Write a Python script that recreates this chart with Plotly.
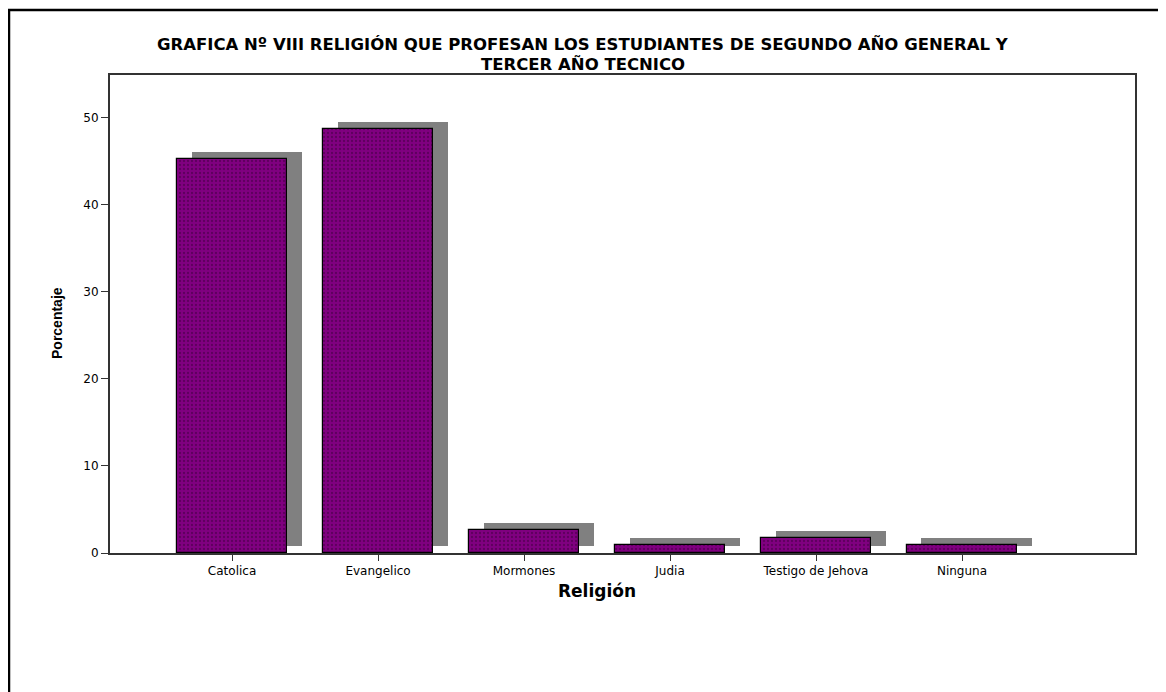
import plotly.graph_objects as go

categories = ["Catolica", "Evangelico", "Mormones", "Judia", "Testigo de Jehova", "Ninguna"]
percentages = [45.2, 48.7, 2.6, 0.9, 1.7, 0.9]
y_ticks = [0, 10, 20, 30, 40, 50]

positions = list(range(len(categories)))
shadow_dx = 0.10
shadow_dy = 0.85
bar_w = 0.755

OFF = 8  # page body margin
W, H = 1166 - OFF, 692 - OFF
# page-space plot box
L, R, T, B = 110, 1135, 75, 553
pw, ph = R - L, B - T

def px(x):
    return (x - L) / pw

def py(y):
    return (B - y) / ph

fig = go.Figure()
fig.add_trace(go.Bar(
    x=[p + shadow_dx for p in positions], y=percentages, base=[shadow_dy] * len(percentages),
    width=bar_w, marker=dict(color="#808080", line=dict(width=0)),
    hoverinfo="skip", showlegend=False,
))
fig.add_trace(go.Bar(
    x=positions, y=percentages, width=bar_w,
    marker=dict(color="#800080", line=dict(color="#000000", width=1.2),
                pattern=dict(shape=".", size=4, solidity=0.25, fgcolor="#3a003a",
                             bgcolor="#800080", fillmode="overlay")),
    showlegend=False,
))

title_font = dict(size=16.5, family="DejaVu Sans, Liberation Sans, sans-serif", color="#000000")
tick_font = dict(size=12, family="DejaVu Sans, Liberation Sans, sans-serif", color="#000000")

fig.update_layout(
    width=W, height=H,
    margin=dict(l=L - OFF, r=W - (R - OFF), t=T - OFF, b=H - (B - OFF), autoexpand=False),
    paper_bgcolor="white", plot_bgcolor="white",
    barmode="overlay", bargap=0,
    font=dict(family="DejaVu Sans, Liberation Sans, sans-serif", color="#000000", size=12),
    xaxis=dict(range=[-0.836, 6.185], tickvals=positions, ticktext=categories,
               showgrid=False, zeroline=False, showline=True, linecolor="#333333", linewidth=1.5,
               mirror=True, ticks="outside", ticklen=6, tickcolor="#333333",
               tickfont=tick_font),
    yaxis=dict(range=[0, 54.9], tickvals=y_ticks, showgrid=False, zeroline=False,
               showline=True, linecolor="#333333", linewidth=2, mirror=True,
               ticks="outside", ticklen=7, tickcolor="#333333", tickfont=tick_font),
    shapes=[
        dict(type="line", xref="paper", yref="paper", x0=px(7), x1=px(1175), y0=py(10), y1=py(10),
             line=dict(color="black", width=2.5)),
        dict(type="line", xref="paper", yref="paper", x0=px(9), x1=px(9), y0=py(9), y1=py(700),
             line=dict(color="black", width=2.5)),
    ],
    annotations=[
        dict(text="<b>GRAFICA Nº VIII RELIGIÓN QUE PROFESAN LOS ESTUDIANTES DE SEGUNDO AÑO GENERAL Y</b>",
             xref="paper", yref="paper", x=px(583), y=py(44), xanchor="center", yanchor="middle",
             showarrow=False, font=title_font),
        dict(text="<b>TERCER AÑO TECNICO</b>",
             xref="paper", yref="paper", x=px(583), y=py(64), xanchor="center", yanchor="middle",
             showarrow=False, font=title_font),
        dict(text="<b>Porcentaje</b>", xref="paper", yref="paper", x=px(57), y=py(323),
             xanchor="center", yanchor="middle", textangle=-90, showarrow=False,
             font=dict(size=14, family="Liberation Sans Narrow, Liberation Sans, Arial Narrow, sans-serif")),
        dict(text="<b>Religión</b>", xref="paper", yref="paper", x=px(597), y=py(591),
             xanchor="center", yanchor="middle", showarrow=False,
             font=dict(size=17, family="DejaVu Sans, Liberation Sans, sans-serif")),
    ],
)

fig.write_html("out.html")
